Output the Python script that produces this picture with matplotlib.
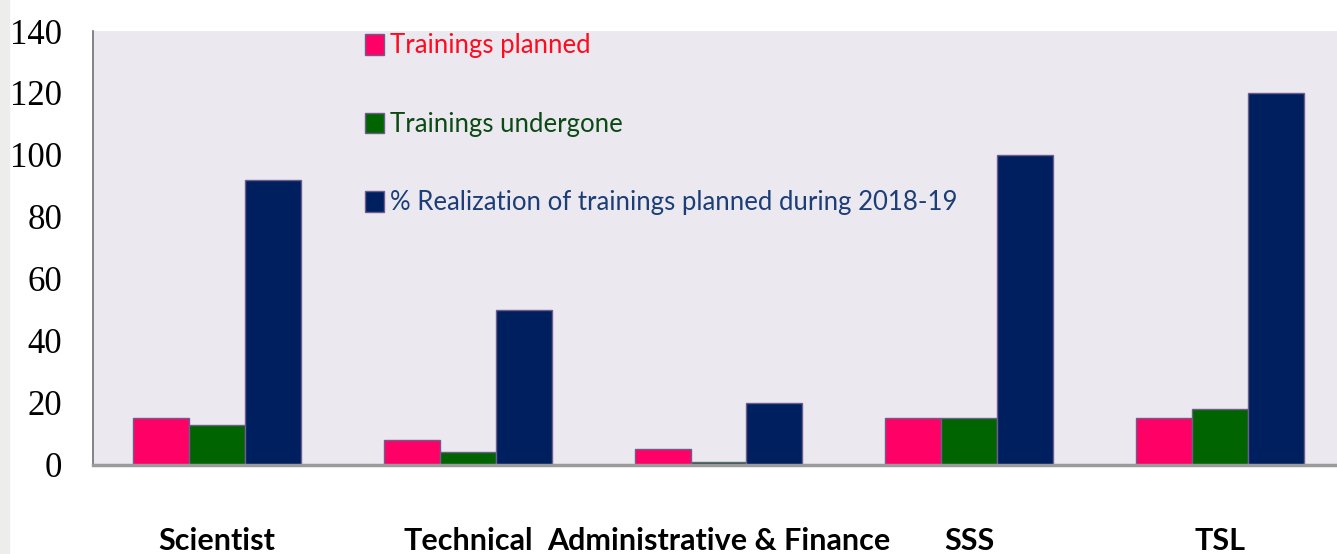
import matplotlib
matplotlib.use('Agg')
import matplotlib.pyplot as plt
from matplotlib.patches import Rectangle
import numpy as np

categories = ['Scientist', 'Technical', 'Administrative & Finance', 'SSS', 'TSL']
planned = [15, 8, 5, 15, 15]
undergone = [13, 4, 1, 15, 18]
realization = [92, 50, 20, 100, 120]
series_labels = ['Trainings planned', 'Trainings undergone',
                 '% Realization of trainings planned during 2018-19']
y_ticks = [0, 20, 40, 60, 80, 100, 120, 140]

bar_colors = ['#FF0066', '#006400', '#001F5F']
text_colors = ['#FF0A1E', '#0B4A14', '#1C3E78']
edge = '#6E5C8E'

fig = plt.figure(figsize=(13.37, 5.54), dpi=100)
fig.patches.append(Rectangle((0, 0), 0.007, 1, transform=fig.transFigure,
                             color='#EDEDEB', zorder=0))
ax = fig.add_axes([0.0696, 0.161, 0.9304, 0.783])
ax.set_facecolor('#EBE9EF')

x = np.arange(len(categories))
w = 0.223
for k, vals in enumerate([planned, undergone, realization]):
    ax.bar(x + (k - 1) * w, vals, width=w, color=bar_colors[k],
           edgecolor=edge, linewidth=1.0, label=series_labels[k], zorder=2)

ax.set_xlim(-0.495, 4.467)
ax.set_ylim(0, 140)
ax.set_yticks(y_ticks)
ax.set_yticklabels([str(t) for t in y_ticks],
                   fontfamily=['Liberation Serif', 'DejaVu Serif'], fontsize=25)
ax.set_xticks(x)
ax.set_xticklabels(categories, fontweight='bold', fontsize=22,
                   fontfamily=['Lato', 'Liberation Sans'])
ax.tick_params(axis='y', length=0, pad=22)
ax.tick_params(axis='x', length=0, pad=45)

for s in ['top', 'right']:
    ax.spines[s].set_visible(False)
ax.spines['left'].set_color('#707070')
ax.spines['left'].set_linewidth(1.2)
ax.spines['bottom'].set_color('#9A9A9A')
ax.spines['bottom'].set_linewidth(2.5)

leg = ax.legend(loc='upper left', bbox_to_anchor=(0.21, 1.018), frameon=False,
                handlelength=0.75, handleheight=0.85, handletextpad=0.25,
                labelspacing=2.08, borderaxespad=0,
                prop={'family': ['Lato', 'Liberation Sans'], 'size': 18.5})
for txt, c in zip(leg.get_texts(), text_colors):
    txt.set_color(c)

fig.savefig('out.png', dpi=100)
